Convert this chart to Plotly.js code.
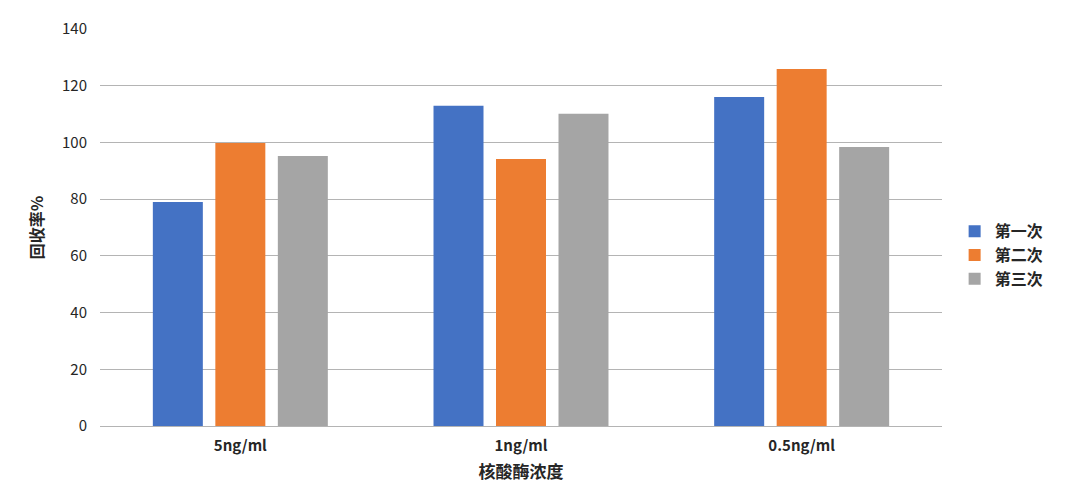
<!DOCTYPE html>
<html>
<head>
<meta charset="utf-8">
<script src="https://cdn.plot.ly/plotly-3.0.1.min.js"></script>
<style>html,body{margin:0;padding:0;background:#fff;}#chart{width:1071px;height:504px;}</style>
</head>
<body>
<div id="chart"></div>
<script>
const categories = ["5ng/ml", "1ng/ml", "0.5ng/ml"];
const seriesNames = ["第一次", "第二次", "第三次"];
const first = [79.0, 112.9, 116.0];
const second = [99.8, 94.2, 125.9];
const third = [95.2, 110.1, 98.4];
const colors = ["#4472C4", "#ED7D31", "#A5A5A5"];
const yTicks = [0, 20, 40, 60, 80, 100, 120, 140];

const font = "'Noto Sans CJK SC', 'Noto Sans', sans-serif";
const values = [first, second, third];
const traces = values.map((v, i) => ({
  type: "bar",
  name: seriesNames[i],
  x: categories,
  y: v,
  marker: {color: colors[i]},
  hoverinfo: "x+y+name"
}));

const layout = {
  width: 1071, height: 504,
  margin: {l: 100, r: 129, t: 29, b: 78, pad: 0},
  paper_bgcolor: "#fff", plot_bgcolor: "#fff",
  barmode: "group",
  bargap: 0.332,
  bargroupgap: 0.2,
  font: {family: font, color: "#262626", size: 14},
  xaxis: {
    type: "category",
    showgrid: false,
    showline: false,
    zeroline: false,
    ticks: "",
    ticklabelstandoff: 9,
    tickfont: {family: font, size: 15, color: "#262626", weight: "bold"},
    title: {text: "核酸酶浓度", font: {family: font, size: 17, color: "#262626", weight: "bold"}, standoff: 12}
  },
  yaxis: {
    range: [0, 140],
    tickvals: yTicks,
    ticktext: yTicks.map(String),
    showgrid: true,
    gridcolor: "#b4b4b4",
    gridwidth: 1,
    zeroline: true,
    zerolinecolor: "#b4b4b4",
    zerolinewidth: 1,
    showline: false,
    ticks: "",
    ticklabelstandoff: 12,
    tickfont: {family: font, size: 15, color: "#262626"},
    title: {text: "回收率%", font: {family: font, size: 16, color: "#262626", weight: "bold"}, standoff: 14}
  },
  legend: {
    x: 1.015, xanchor: "left",
    y: 0.43, yanchor: "middle",
    font: {family: font, size: 16, color: "#262626", weight: "bold"},
    itemwidth: 30,
    tracegroupgap: 0,
    bgcolor: "rgba(0,0,0,0)"
  },
  showlegend: true
};

Plotly.newPlot("chart", traces, layout, {displayModeBar: false, staticPlot: true});
</script>
</body>
</html>
